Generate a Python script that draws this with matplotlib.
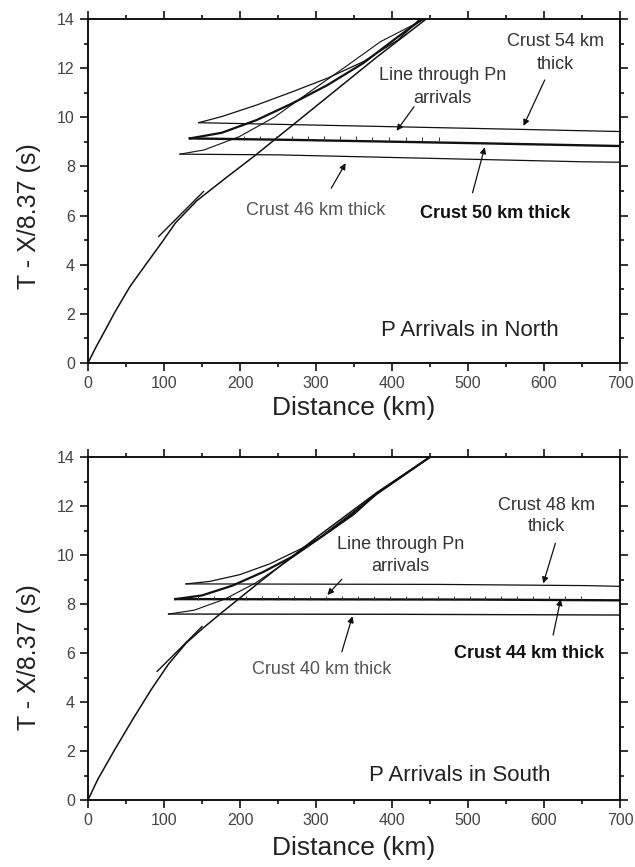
import matplotlib
matplotlib.use("Agg")
import matplotlib.pyplot as plt
from matplotlib.ticker import MultipleLocator

plt.rcParams['font.family'] = ['Liberation Sans', 'DejaVu Sans']

# ---------------- North panel data ----------------
pg_n_d = [0, 10, 22, 35, 55, 77, 97, 115, 143, 180, 220, 300, 380, 445]
pg_n_t = [0, 0.62, 1.3, 2.05, 3.1, 4.05, 4.9, 5.7, 6.6, 7.5, 8.45, 10.45, 12.45, 14.0]
seg_n_d = [93, 152]
seg_n_t = [5.15, 6.98]

c54_n_d = [145.6, 176, 222, 269, 315, 362, 408, 436]
c54_n_t = [9.78, 10.03, 10.5, 11.04, 11.59, 12.26, 13.15, 13.98]
c50_n_d = [134, 176, 222, 269, 315, 362, 408, 440]
c50_n_t = [9.14, 9.37, 9.89, 10.57, 11.31, 12.2, 13.28, 14.0]
c46_n_d = [121, 152.6, 199, 246, 292, 339, 385, 443]
c46_n_t = [8.5, 8.67, 9.21, 10.02, 11.04, 12.06, 13.08, 14.0]

h54_n_d = [145.6, 287, 566, 700]
h54_n_t = [9.78, 9.69, 9.51, 9.42]
h50_n_d = [134, 269, 520, 700]
h50_n_t = [9.14, 9.08, 8.94, 8.83]
h46_n_d = [121, 250, 506, 650, 700]
h46_n_t = [8.5, 8.47, 8.29, 8.19, 8.17]

pn_n_d = [205, 226, 247, 268, 289, 310, 331, 352, 374, 396, 418, 440, 462]
pn_n_t = [9.17, 9.17, 9.16, 9.16, 9.15, 9.15, 9.14, 9.14, 9.13, 9.13, 9.12, 9.12, 9.11]

# ---------------- South panel data ----------------
pg_s_d = [0, 13, 36, 60, 83, 106, 129, 150, 176, 222, 300, 380, 450]
pg_s_t = [0, 0.85, 2.1, 3.35, 4.5, 5.55, 6.4, 6.98, 7.65, 8.8, 10.7, 12.55, 14.0]
seg_s_d = [91, 150]
seg_s_t = [5.25, 7.08]

c48_s_d = [129, 160, 200, 240, 280, 320, 350, 380, 410, 450]
c48_s_t = [8.82, 8.92, 9.2, 9.65, 10.25, 11.0, 11.65, 12.5, 13.15, 14.0]
c44_s_d = [115, 150, 190, 230, 270, 310, 345, 380, 450]
c44_s_t = [8.2, 8.35, 8.75, 9.3, 9.95, 10.8, 11.6, 12.5, 14.0]
c40_s_d = [106, 140, 180, 220, 260, 300, 340, 380, 450]
c40_s_t = [7.59, 7.75, 8.2, 8.85, 9.7, 10.6, 11.55, 12.5, 14.0]

h48_s_d = [129, 462, 657, 700]
h48_s_t = [8.82, 8.8, 8.75, 8.72]
h44_s_d = [115, 518, 700]
h44_s_t = [8.2, 8.18, 8.15]
h40_s_d = [106, 400, 700]
h40_s_t = [7.59, 7.58, 7.55]

pn_s_d = [145, 166, 187, 208, 229, 250, 271, 292, 313, 334, 355, 376, 397,
          418, 439, 460, 481, 502, 523, 544, 565, 586, 607, 628, 649]
pn_s_t = [8.25, 8.25, 8.25, 8.25, 8.25, 8.25, 8.25, 8.25, 8.25,
          8.25, 8.25, 8.25, 8.25, 8.25, 8.25, 8.25, 8.24, 8.24,
          8.24, 8.24, 8.24, 8.23, 8.23, 8.23, 8.23]

x_ticks = [0, 100, 200, 300, 400, 500, 600, 700]
y_ticks = [0, 2, 4, 6, 8, 10, 12, 14]

fig = plt.figure(figsize=(6.35, 8.67), dpi=100)
ax1 = fig.add_axes([88/635, 1-363/867, 532/635, 344/867])
ax2 = fig.add_axes([88/635, 1-800/867, 532/635, 343/867])

def style(ax, ylab_y, xlab_y):
    ax.set_xlim(0, 700)
    ax.set_ylim(0, 14)
    ax.set_xticks(x_ticks)
    ax.set_yticks(y_ticks)
    ax.xaxis.set_minor_locator(MultipleLocator(50))
    ax.yaxis.set_minor_locator(MultipleLocator(1))
    ax.tick_params(which='both', direction='out', top=True, right=True,
                   labeltop=False, labelright=False, width=1.2, colors='#111',
                   labelcolor='#444', labelsize=11.5)
    ax.tick_params(which='major', length=6)
    ax.tick_params(which='minor', length=3)
    for s in ax.spines.values():
        s.set_linewidth(1.4)
        s.set_color('#111')
    ax.set_xlabel('Distance (km)', fontsize=19, color='#222')
    ax.set_ylabel('T - X/8.37 (s)', fontsize=18, color='#222')
    ax.yaxis.set_label_coords(-0.088, ylab_y)
    ax.xaxis.set_label_coords(0.5, xlab_y)

def arrow(ax, tail, head):
    ax.annotate('', xy=head, xytext=tail,
                arrowprops=dict(arrowstyle='-|>', color='#111', lw=0.9,
                                mutation_scale=9, shrinkA=0, shrinkB=0))

lc = '#111'
# North
ax1.plot(pg_n_d, pg_n_t, color=lc, lw=1.1)
ax1.plot(seg_n_d, seg_n_t, color=lc, lw=1.0)
ax1.plot(c54_n_d, c54_n_t, color=lc, lw=0.9)
ax1.plot(c50_n_d, c50_n_t, color=lc, lw=1.6)
ax1.plot(c46_n_d, c46_n_t, color=lc, lw=0.8)
ax1.plot(h54_n_d, h54_n_t, color=lc, lw=0.9)
ax1.plot(h50_n_d, h50_n_t, color=lc, lw=1.7)
ax1.plot(h46_n_d, h46_n_t, color=lc, lw=0.9)
ax1.plot(pn_n_d, pn_n_t, ls='none', marker='|', ms=3, mew=0.7, color='#333')

ax1.text(615, 13.08, 'Crust 54 km', ha='center', va='center', fontsize=13, color='#333')
ax1.text(615, 12.13, 'thick', ha='center', va='center', fontsize=13, color='#333')
ax1.text(466, 11.72, 'Line through Pn', ha='center', va='center', fontsize=13, color='#333')
ax1.text(466, 10.77, 'arrivals', ha='center', va='center', fontsize=13, color='#333')
ax1.text(299, 6.19, 'Crust 46 km thick', ha='center', va='center', fontsize=13, color='#555')
ax1.text(536, 6.09, 'Crust 50 km thick', ha='center', va='center', fontsize=13,
         color='#111', fontweight='bold')
ax1.text(503, 1.34, 'P Arrivals in North', ha='center', va='center', fontsize=16, color='#222')
arrow(ax1, (429, 10.43), (406, 9.45))
arrow(ax1, (601, 11.52), (573, 9.65))
arrow(ax1, (320, 7.11), (339, 8.13))
arrow(ax1, (506, 6.93), (522, 8.78))
style(ax1, 0.427, -0.095)

# South
ax2.plot(pg_s_d, pg_s_t, color=lc, lw=1.1)
ax2.plot(seg_s_d, seg_s_t, color=lc, lw=1.0)
ax2.plot(c48_s_d, c48_s_t, color=lc, lw=0.9)
ax2.plot(c44_s_d, c44_s_t, color=lc, lw=1.6)
ax2.plot(c40_s_d, c40_s_t, color=lc, lw=0.8)
ax2.plot(h48_s_d, h48_s_t, color=lc, lw=0.9)
ax2.plot(h44_s_d, h44_s_t, color=lc, lw=1.7)
ax2.plot(h40_s_d, h40_s_t, color=lc, lw=1.0)
ax2.plot(pn_s_d, pn_s_t, ls='none', marker='|', ms=3, mew=0.7, color='#333')

ax2.text(603, 12.04, 'Crust 48 km', ha='center', va='center', fontsize=13, color='#333')
ax2.text(603, 11.16, 'thick', ha='center', va='center', fontsize=13, color='#333')
ax2.text(411, 10.41, 'Line through Pn', ha='center', va='center', fontsize=13, color='#333')
ax2.text(411, 9.52, 'arrivals', ha='center', va='center', fontsize=13, color='#333')
ax2.text(307, 5.31, 'Crust 40 km thick', ha='center', va='center', fontsize=13, color='#555')
ax2.text(580, 5.96, 'Crust 44 km thick', ha='center', va='center', fontsize=13,
         color='#111', fontweight='bold')
ax2.text(489, 1.02, 'P Arrivals in South', ha='center', va='center', fontsize=16, color='#222')
arrow(ax2, (334, 9.01), (315, 8.37))
arrow(ax2, (615, 10.48), (599, 8.84))
arrow(ax2, (334, 6.05), (348, 7.5))
arrow(ax2, (612, 6.73), (622, 8.2))
style(ax2, 0.417, -0.105)

fig.savefig('out.png', dpi=100)
